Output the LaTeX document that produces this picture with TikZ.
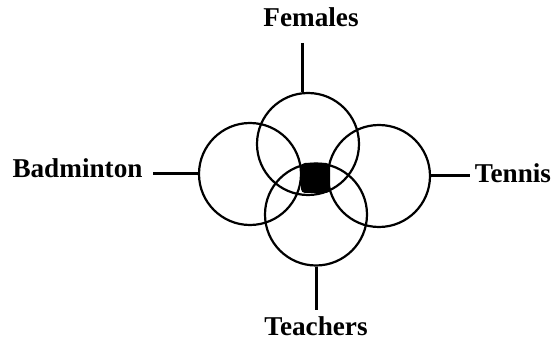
\documentclass[tikz,border=0pt]{standalone}
\usepackage{fontspec}
\setmainfont{Liberation Serif}
\usepackage{tikz}

\begin{document}
\begin{tikzpicture}[x=0.5pt,y=-0.5pt,
  venn/.style={draw,circle,line width=1.1pt,minimum size=51pt,inner sep=0pt},
  stem/.style={line width=1.5pt},
  lab/.style={anchor=base,inner sep=0pt,font=\fontsize{13.6}{16}\selectfont\bfseries},
  core/.style={fill=black,rounded corners=2pt,minimum width=14.5pt,minimum height=15pt,inner sep=0pt}]
  \useasboundingbox (0,0) rectangle (553,342);
  % the four sets
  \node[venn] (bad) at (250,174) {};
  \node[venn] (ten) at (379,176) {};
  \node[venn] (fem) at (308,144) {};
  \node[venn] (tea) at (316,214.5) {};
  \node[core] (core) at (315.5,178) {};
  % labels
  \node[lab] (femlab) at (311,27) {Females};
  \node[lab] (badlab) at (77.5,178) {Badminton};
  \node[lab] (tenlab) at (513,183) {Tennis};
  \node[lab] (tealab) at (316,336) {Teachers};
  \coordinate (femend) at (302,43);
  \coordinate (badend) at (153,174);
  \coordinate (tenend) at (470,176);
  \coordinate (teaend) at (316,310);
  \draw[stem] (femend) -- (femend |- fem.north);
  \draw[stem] (badend) -- (bad.west);
  \draw[stem] (ten.east) -- (tenend);
  \draw[stem] (tea.south) -- (teaend);
\end{tikzpicture}
\end{document}
